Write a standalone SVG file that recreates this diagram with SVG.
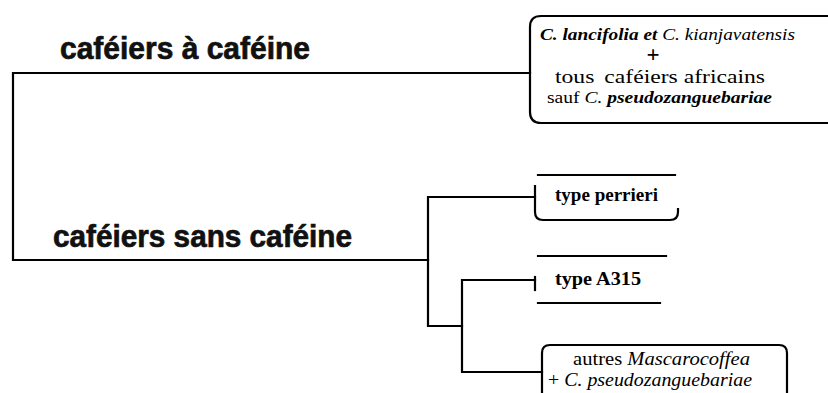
<svg xmlns="http://www.w3.org/2000/svg" width="828" height="393" viewBox="0 0 828 393">
<style>
.ln{fill:none;stroke:#000;stroke-width:2.2;stroke-linecap:square;stroke-linejoin:miter}
.hd{font-family:"Liberation Sans",Arial,sans-serif;font-weight:bold;font-size:32px;fill:#111;stroke:#111;stroke-width:0.7}
.sf{font-family:"Liberation Serif","DejaVu Serif","Times New Roman",serif;fill:#000}
.b{font-weight:bold}
.i{font-style:italic}
</style>
<rect width="828" height="393" fill="#fff"/>
<g id="connectors">
<path class="ln" d="M530,73 H13 V260 H428"/>
<path class="ln" d="M535,197 H428 V326 H462"/>
<path class="ln" d="M535,280 H462 V372 H542"/>
</g>
<g id="label-cafeine">
<text class="hd" x="60" y="59" textLength="250" lengthAdjust="spacingAndGlyphs">caféiers à caféine</text>
</g>
<g id="label-sans-cafeine">
<text class="hd" x="53" y="247" textLength="299" lengthAdjust="spacingAndGlyphs">caféiers sans caféine</text>
</g>
<g id="node-caffeine">
<path class="ln" d="M832,16 H541 Q530,16 530,27 V112 Q530,123 541,123 H832"/>
<text class="sf" x="540" y="40" font-size="17" textLength="255" lengthAdjust="spacingAndGlyphs"><tspan class="b i">C. lancifolia et</tspan><tspan class="i"> C. kianjavatensis</tspan></text>
<text class="sf b" x="653" y="62" font-size="23" text-anchor="middle">+</text>
<text class="sf" x="555" y="83" font-size="19" textLength="210" lengthAdjust="spacingAndGlyphs">tous<tspan dx="8">caféiers africains</tspan></text>
<text class="sf" x="547" y="103" font-size="17" textLength="225" lengthAdjust="spacingAndGlyphs">sauf <tspan class="i">C. </tspan><tspan class="i b">pseudozanguebariae</tspan></text>
</g>
<g id="node-perrieri">
<path class="ln" d="M538,175 H675"/>
<path class="ln" d="M535,186 V212 Q535,220 543,220 H670 Q678,220 678,212 V209"/>
<text class="sf b" x="555" y="201" font-size="18" textLength="103" lengthAdjust="spacingAndGlyphs">type perrieri</text>
</g>
<g id="node-a315">
<path class="ln" d="M538,256 H666"/>
<path class="ln" d="M535,277 V290"/>
<path class="ln" d="M538,303 H660"/>
<text class="sf b" x="555" y="285" font-size="18" textLength="86" lengthAdjust="spacingAndGlyphs">type A315</text>
</g>
<g id="node-mascarocoffea">
<path class="ln" d="M542,395 V353 Q542,345 550,345 H779 Q787,345 787,353 V395"/>
<text class="sf" x="573" y="365" font-size="18" textLength="177" lengthAdjust="spacingAndGlyphs">autres <tspan class="i">Mascarocoffea</tspan></text>
<text class="sf" x="548" y="386" font-size="19" textLength="204" lengthAdjust="spacingAndGlyphs">+ <tspan class="i">C. pseudozanguebariae</tspan></text>
</g>
</svg>
